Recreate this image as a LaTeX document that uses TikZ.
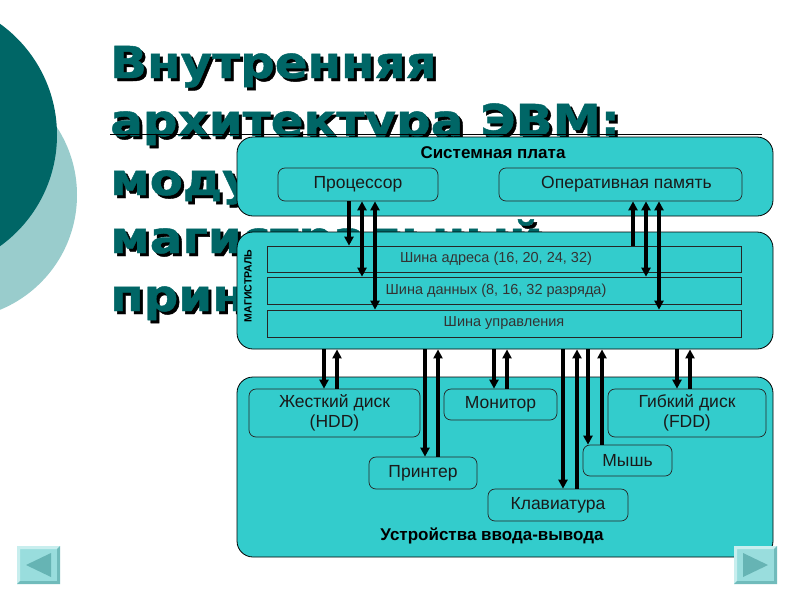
\documentclass[tikz,border=0pt]{standalone}
\usepackage{fontspec}
\setmainfont{Liberation Sans}
\newfontfamily\titlefont[FakeStretch=1.1,FakeBold=1]{DejaVu Sans}
\usetikzlibrary{arrows.meta}
\definecolor{tealbg}{HTML}{33CCCC}
\definecolor{titlecol}{HTML}{006666}
\definecolor{darkcirc}{HTML}{006666}
\definecolor{lightcirc}{HTML}{99CCCC}
\definecolor{btnfill}{HTML}{99DDDD}
\definecolor{btnlight}{HTML}{C8EEEE}
\definecolor{btndark}{HTML}{70BBBB}
\definecolor{btntri}{HTML}{66B4B4}
\definecolor{bustext}{HTML}{333333}
\definecolor{unittext}{HTML}{1A1A1A}
\tikzset{
  panel/.style={draw=black, line width=0.8pt, fill=tealbg, rounded corners=16pt, inner sep=0pt},
  unit/.style={draw=black!85, line width=0.7pt, rounded corners=7pt, fill=tealbg, inner sep=0pt,
    text=unittext, font=\fontsize{17.5}{20}\selectfont, align=center},
  busrow/.style={draw=black!85, line width=0.7pt, fill=tealbg, inner sep=0pt,
    text=bustext, font=\fontsize{14.5}{16}\selectfont},
  plabel/.style={font=\bfseries\fontsize{17}{19}\selectfont, text=black, inner sep=0pt},
  ttl/.style={anchor=base west, inner sep=0pt, font=\titlefont\bfseries\fontsize{44}{44}\selectfont},
  arr/.style={line width=3.4pt, -{Triangle[length=9pt,width=9pt]}},
  darr/.style={line width=3.4pt, {Triangle[length=9pt,width=9pt]}-{Triangle[length=9pt,width=9pt]}},
}
\begin{document}
\begin{tikzpicture}[x=1pt,y=-1pt]
\useasboundingbox (0,0) rectangle (800,600);
\fill[white] (0,0) rectangle (800,600);
% decorative circles
\fill[lightcirc] (-47,195) circle (124);
\fill[darkcirc] (-80,135) circle (137);
% title (partly hidden behind the panels)
\foreach \tx/\ty/\tt [count=\i] in {110/78/Внутренняя, 110/136/архитектура ЭВМ:, 110/195/модульно-, 110/253/магистральный, 110/311/принцип}{
  \node[ttl, text=black] (ts\i) at (\tx+3,\ty+3) {\tt};
  \node[ttl, text=titlecol] (t\i) at (\tx,\ty) {\tt};
}
\draw[line width=0.6pt] (110,134) -- (762,134);
% panels
\node[panel, minimum width=536pt, minimum height=79pt] (board) at (505,176.5) {};
\node[panel, minimum width=536pt, minimum height=117pt] (mag) at (505,290.5) {};
\node[panel, minimum width=536pt, minimum height=180pt] (io) at (505,467) {};
\node[plabel] (boardlbl) at (493,153) {Системная плата};
\node[plabel, font=\bfseries\fontsize{10.5}{12}\selectfont, rotate=90] (maglbl) at (248,286) {МАГИСТРАЛЬ};
\node[plabel] (iolbl) at (492,536) {Устройства ввода-вывода};
% units on the board
\node[unit, minimum width=160pt, minimum height=33pt] (cpu) at (358,184.5) {Процессор};
\node[unit, minimum width=243pt, minimum height=33pt] (ram) at (620.5,184.5) {\hspace*{12pt}Оперативная память};
% buses
\node[busrow, minimum width=474pt, minimum height=26pt] (bus1) at (504,259) {\hspace*{-16pt}Шина адреса (16, 20, 24, 32)};
\node[busrow, minimum width=474pt, minimum height=27pt] (bus2) at (504,290.5) {\hspace*{-16pt}Шина данных (8, 16, 32 разряда)};
\node[busrow, minimum width=474pt, minimum height=27pt] (bus3) at (504,323.5) {Шина управления};
% devices
\node[unit, minimum width=171pt, minimum height=48pt] (hdd) at (334.5,413) {Жесткий диск\\(HDD)};
\node[unit, minimum width=113pt, minimum height=31pt] (mon) at (500.5,404.5) {Монитор};
\node[unit, minimum width=158pt, minimum height=48pt] (fdd) at (687,413) {Гибкий диск\\(FDD)};
\node[unit, minimum width=108pt, minimum height=32pt] (prn) at (423,473) {Принтер};
\node[unit, minimum width=89pt, minimum height=31pt] (mouse) at (627.5,460.5) {Мышь};
\node[unit, minimum width=140pt, minimum height=32pt] (kbd) at (558,505) {Клавиатура};
% x positions of the connectors
\foreach \n/\xx in {a/349,b/362,c/375,d/633,e/646,f/659,g/324,h/337,i/425,j/438,k/494,l/507,m/563,n/577,o/588,p/602,q/677,r/690}{
  \coordinate (x\n) at (\xx,0);
}
% board <-> bus
\draw[arr] (cpu.south -| xa) -- (bus1.north -| xa);
\draw[darr] (cpu.south -| xb) -- (bus2.north -| xb);
\draw[darr] (cpu.south -| xc) -- (bus3.north -| xc);
\draw[arr] (bus1.north -| xd) -- (ram.south -| xd);
\draw[darr] (ram.south -| xe) -- (bus2.north -| xe);
\draw[darr] (ram.south -| xf) -- (bus3.north -| xf);
% bus <-> devices
\draw[arr] (mag.south -| xg) -- (hdd.north -| xg);
\draw[arr] (hdd.north -| xh) -- (mag.south -| xh);
\draw[arr] (mag.south -| xi) -- (prn.north -| xi);
\draw[arr] (prn.north -| xj) -- (mag.south -| xj);
\draw[arr] (mag.south -| xk) -- (mon.north -| xk);
\draw[arr] (mon.north -| xl) -- (mag.south -| xl);
\draw[arr] (mag.south -| xm) -- (kbd.north -| xm);
\draw[arr] (kbd.north -| xn) -- (mag.south -| xn);
\draw[arr] (mag.south -| xo) -- (mouse.north -| xo);
\draw[arr] (mouse.north -| xp) -- (mag.south -| xp);
\draw[arr] (mag.south -| xq) -- (fdd.north -| xq);
\draw[arr] (fdd.north -| xr) -- (mag.south -| xr);
% navigation buttons
\foreach \bx/\dir in {17/-1,734/1}{
  \fill[btnfill] (\bx,546) rectangle (\bx+43,584);
  \fill[btnlight] (\bx,546) -- (\bx+43,546) -- (\bx+40,549) -- (\bx+3,549) -- (\bx+3,581) -- (\bx,584) -- cycle;
  \fill[btndark] (\bx+43,584) -- (\bx,584) -- (\bx+3,581) -- (\bx+40,581) -- (\bx+40,549) -- (\bx+43,546) -- cycle;
}
\fill[btntri] (26,565) -- (51,553) -- (51,577) -- cycle;
\fill[btntri] (768,565) -- (743,553) -- (743,577) -- cycle;
\end{tikzpicture}
\end{document}
